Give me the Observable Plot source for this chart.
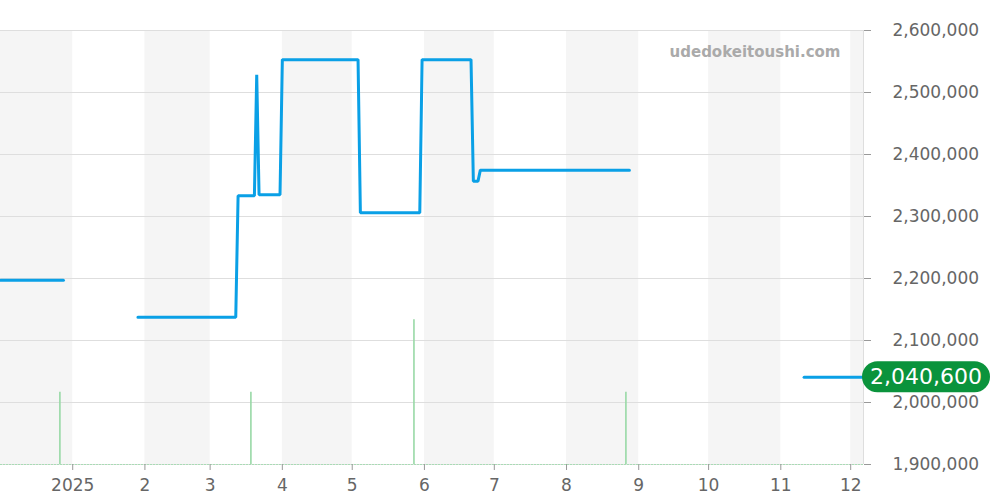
<!DOCTYPE html>
<html>
<head>
<meta charset="utf-8">
<script src="https://cdn.jsdelivr.net/npm/d3@7"></script>
<script src="https://cdn.jsdelivr.net/npm/@observablehq/plot@0.6"></script>
<style>
  html, body { margin: 0; padding: 0; background: #fff; }
  #chart { width: 1000px; height: 500px; }
</style>
</head>
<body>
<div id="chart"></div>
<script>
// ---- data ----
const priceDates = ["2024-12-01","2024-12-28",
  "2025-01-29","2025-03-12","2025-03-13","2025-03-20","2025-03-21","2025-03-22","2025-03-31","2025-04-01",
  "2025-05-03T12:00","2025-05-04T12:00","2025-05-30","2025-05-31","2025-06-21","2025-06-22","2025-06-24","2025-06-25","2025-08-28",
  "2025-11-11","2025-12-06"];
const priceValues = [2197000,2197000,
  2137500,2137500,2333400,2333400,2528500,2335000,2335000,2553000,
  2553000,2306000,2306000,2553000,2553000,2357000,2357000,2374700,2374700,
  2040600,2040600];
const priceSegments = [0,0, 1,1,1,1,1,1,1,1, 1,1,1,1,1,1,1,1,1, 2,2];

const volumeDates = ["2024-12-26T12:00","2025-03-18T12:00","2025-05-27T12:00","2025-08-26T12:00"];
const volumeValues = [1,1,2,1];

const shadedMonths = ["2024-12-01","2025-02-01","2025-04-01","2025-06-01","2025-08-01","2025-10-01","2025-12-01"];
const xDomain = ["2024-12-01","2025-12-06T12:00"];
const xTickDates = ["2025-01-01","2025-02-01","2025-03-01","2025-04-01","2025-05-01","2025-06-01",
  "2025-07-01","2025-08-01","2025-09-01","2025-10-01","2025-11-01","2025-12-01"];
const xTickLabels = ["2025","2","3","4","5","6","7","8","9","10","11","12"];
const yTicks = [1900000,2000000,2100000,2200000,2300000,2400000,2500000,2600000];
const lastPrice = 2040600;
const watermark = "udedokeitoushi.com";

// ---- build ----
const parse = s => new Date(s + (s.length === 10 ? "T00:00:00Z" : "Z"));
const domain = xDomain.map(parse);
const yMin = yTicks[0], yMax = yTicks[yTicks.length - 1];

const prices = priceDates.map((d, i) => ({date: parse(d), price: priceValues[i], seg: priceSegments[i]}));
const maxVol = d3.max(volumeValues);
const volumes = volumeDates.map((d, i) => ({date: parse(d), vol: volumeValues[i]}));
const bands = shadedMonths.map(d => {
  const s = parse(d);
  const e = d3.utcMonth.offset(s, 1);
  return {start: s, end: e > domain[1] ? domain[1] : e};
});
const tickLabelMap = new Map(xTickDates.map((d, i) => [+parse(d), xTickLabels[i]]));

const badge = (index, scales, values, dimensions) => {
  const y = scales.y(lastPrice);
  const x = dimensions.width - dimensions.marginRight;
  const g = d3.create("svg:g");
  g.append("rect")
    .attr("x", x - 1).attr("y", y - 15.5)
    .attr("width", 128).attr("height", 31)
    .attr("rx", 15.5).attr("fill", "#0a933c");
  g.append("text")
    .attr("x", x + 63).attr("y", y)
    .attr("text-anchor", "middle").attr("dominant-baseline", "central")
    .attr("fill", "#fff").attr("font-size", "22px")
    .attr("font-family", "DejaVu Sans")
    .text(d3.format(",")(lastPrice));
  return g.node();
};

const plot = Plot.plot({
  width: 1000,
  height: 500,
  marginLeft: 0,
  marginRight: 137,
  marginTop: 30,
  marginBottom: 36,
  style: {fontFamily: "DejaVu Sans", fontSize: "17px", background: "#fff", overflow: "visible"},
  x: {type: "utc", domain},
  y: {domain: [yMin, yMax]},
  marks: [
    Plot.rectY(bands, {x1: "start", x2: "end", y1: yMin, y2: yMax, fill: "#f5f5f5"}),
    Plot.gridY(yTicks, {stroke: "#dedede", strokeOpacity: 1, strokeWidth: 1}),
    Plot.ruleX([domain[1]], {stroke: "#dedede", strokeWidth: 1}),
    Plot.ruleX(volumes, {
      x: "date",
      y1: yMin,
      y2: d => yMin + d.vol / (3 * maxVol) * (yMax - yMin),
      stroke: "#98d9a6", strokeWidth: 1.6
    }),
    Plot.ruleY([yMin], {stroke: "#a9dcb5", strokeWidth: 1.2, strokeDasharray: "2,1"}),
    Plot.line(prices, {x: "date", y: "price", z: "seg", stroke: "#0aa0e6", strokeWidth: 3, strokeLinejoin: "miter"}),
    Plot.text([watermark], {frameAnchor: "top-right", dx: -23, dy: 22, text: d => d,
      fill: "#aaaaaa", fontWeight: "bold", fontSize: 15, textAnchor: "end", lineAnchor: "middle"}),
    Plot.axisY({anchor: "right", ticks: yTicks, tickFormat: d3.format(","), tickSize: 7, tickPadding: 22,
      stroke: "#999", fill: "#666", textAnchor: "start", label: null}),
    Plot.axisX({ticks: xTickDates.map(parse), tickFormat: d => tickLabelMap.get(+d), tickSize: 6, tickPadding: 8,
      stroke: "#999", fill: "#666", label: null}),
    badge
  ]
});
document.getElementById("chart").appendChild(plot);
</script>
</body>
</html>
